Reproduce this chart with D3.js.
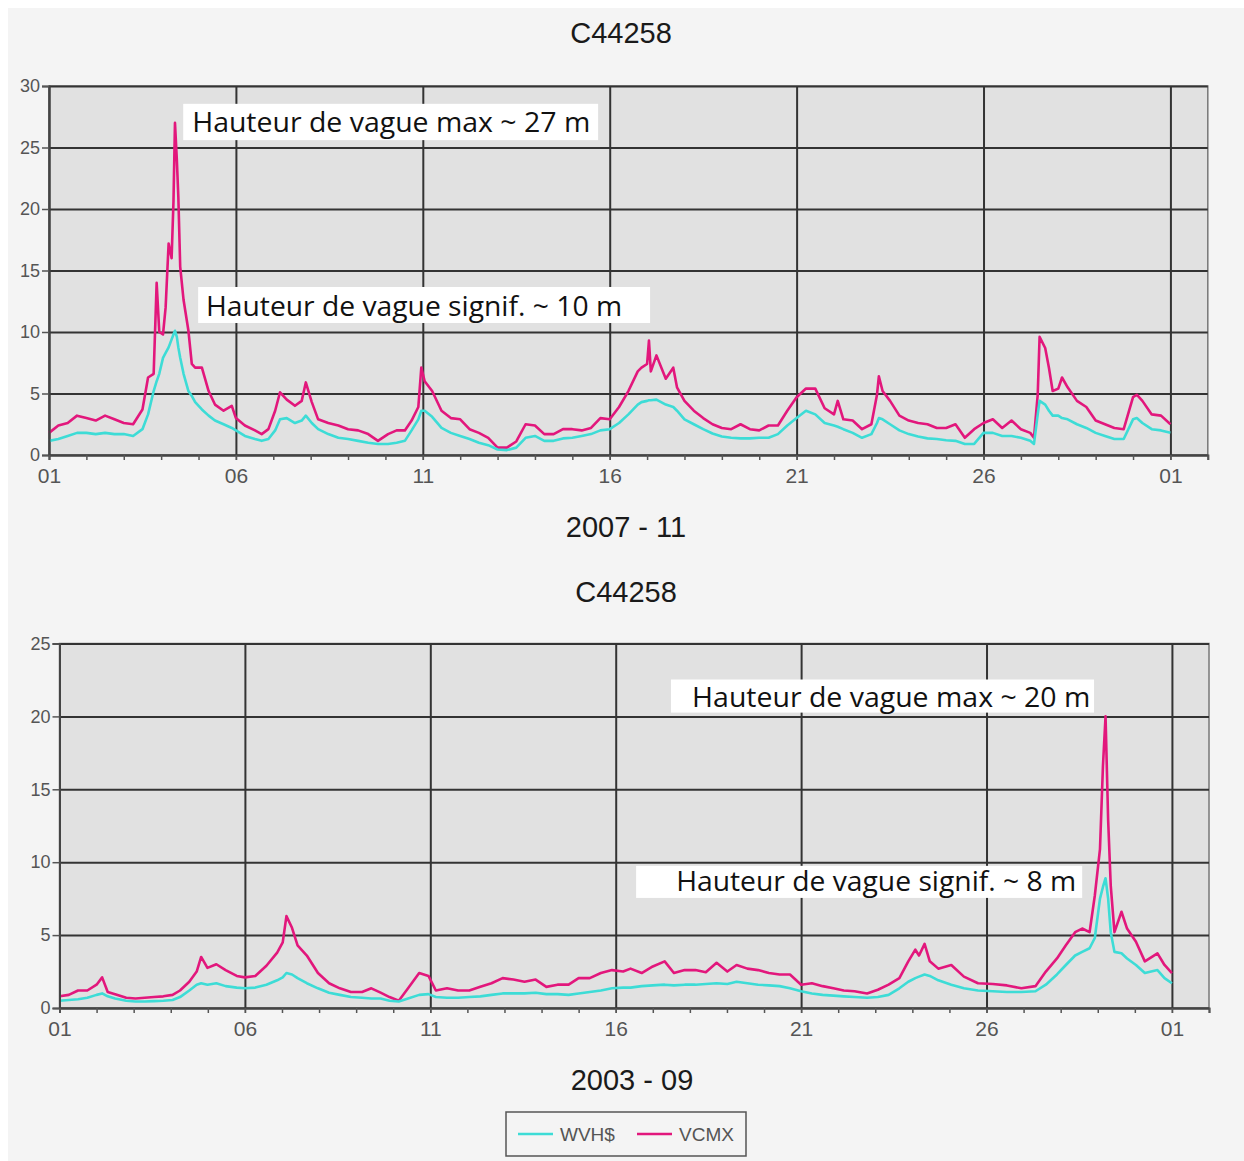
<!DOCTYPE html>
<html>
<head>
<meta charset="utf-8">
<script src="https://cdn.jsdelivr.net/npm/d3@7"></script>
<style>
  body { margin: 0; background: #ffffff; }
  .tick text { font-family: "Liberation Sans Narrow", "Liberation Sans", Arial, sans-serif; fill: #555; }
</style>
</head>
<body>
<div id="chart"></div>
<script>
// ---- data: C44258, 2007-11 (day of month, samples) ----
var novDays = [1, 1.25, 1.5, 1.75, 2, 2.25, 2.5, 2.75, 3, 3.25, 3.5, 3.65, 3.8, 3.88, 3.95, 4.05, 4.12, 4.2, 4.28, 4.33,
  4.37, 4.42, 4.46, 4.51, 4.6, 4.73, 4.82, 4.91, 5.09, 5.27, 5.44, 5.67, 5.89, 6, 6.24, 6.51, 6.69, 6.87, 7.05, 7.18,
  7.36, 7.58, 7.76, 7.87, 8.03, 8.2, 8.47, 8.74, 9, 9.27, 9.54, 9.8, 10.07, 10.3, 10.52, 10.7, 10.88, 10.96, 11.05, 11.25,
  11.5, 11.75, 12, 12.25, 12.5, 12.75, 13, 13.25, 13.5, 13.75, 14, 14.25, 14.5, 14.75, 15, 15.25, 15.5, 15.75, 16, 16.25,
  16.5, 16.75, 16.85, 17, 17.05, 17.1, 17.25, 17.5, 17.7, 17.8, 18, 18.25, 18.5, 18.75, 19, 19.25, 19.5, 19.75, 20, 20.25,
  20.5, 20.75, 21, 21.25, 21.5, 21.75, 22, 22.1, 22.25, 22.5, 22.75, 23, 23.15, 23.2, 23.3, 23.5, 23.75, 24, 24.25, 24.5,
  24.75, 25, 25.25, 25.5, 25.75, 26, 26.25, 26.5, 26.75, 27, 27.25, 27.35, 27.45, 27.5, 27.65, 27.75, 27.85, 28, 28.1, 28.25,
  28.5, 28.75, 29, 29.25, 29.5, 29.75, 30, 30.1, 30.25, 30.5, 30.75, 31];
var novWvhs = [1.15, 1.3, 1.55, 1.8, 1.8, 1.7, 1.8, 1.7, 1.7, 1.55, 2.1, 3.3, 5.2, 6.0, 6.6, 7.9, 8.3, 8.75, 9.4, 9.8,
  10.1, 9.6, 8.75, 7.9, 6.6, 5.2, 4.8, 4.3, 3.7, 3.2, 2.8, 2.5, 2.2, 2.0, 1.55, 1.3, 1.15, 1.3, 2.0, 2.9,
  3.0, 2.6, 2.8, 3.2, 2.6, 2.1, 1.7, 1.4, 1.3, 1.15, 1.0, 0.9, 0.9, 1.0, 1.15, 2.0, 2.9, 3.6, 3.6, 3.1,
  2.2, 1.8, 1.55, 1.3, 1.0, 0.8, 0.45, 0.4, 0.6, 1.4, 1.55, 1.15, 1.15, 1.35, 1.4, 1.55, 1.7, 2.0, 2.1, 2.6,
  3.3, 4.1, 4.3, 4.4, 4.45, 4.45, 4.5, 4.1, 3.9, 3.6, 2.9, 2.5, 2.1, 1.75, 1.5, 1.4, 1.35, 1.35, 1.4, 1.4,
  1.7, 2.4, 3.0, 3.6, 3.3, 2.6, 2.4, 2.3, 2.1, 1.8, 1.4, 1.7, 2.6, 3.0, 2.9, 2.5, 2.0, 1.7, 1.5, 1.35,
  1.3, 1.2, 1.15, 0.9, 0.9, 1.8, 1.8, 1.55, 1.55, 1.4, 1.15, 0.9, 3.3, 4.4, 4.1, 3.6, 3.2, 3.2, 3.0, 2.9,
  2.5, 2.2, 1.8, 1.55, 1.3, 1.3, 2.9, 3.0, 2.6, 2.1, 2.0, 1.8];
var novVcmx = [1.8, 2.4, 2.6, 3.2, 3.0, 2.8, 3.2, 2.9, 2.6, 2.5, 3.7, 6.3, 6.6, 14.0, 10.0, 9.8, 12.0, 17.2, 16.0, 20.6,
  27.0, 24.0, 21.0, 15.3, 12.6, 10.1, 7.4, 7.1, 7.1, 5.2, 4.1, 3.6, 4.0, 3.0, 2.4, 2.0, 1.7, 2.1, 3.6, 5.1,
  4.5, 4.0, 4.4, 5.9, 4.3, 2.9, 2.6, 2.4, 2.1, 2.0, 1.7, 1.15, 1.7, 2.0, 2.0, 2.8, 3.9, 7.1, 6.0, 5.2,
  3.6, 3.0, 2.9, 2.1, 1.8, 1.4, 0.6, 0.6, 1.1, 2.5, 2.4, 1.7, 1.7, 2.1, 2.1, 2.0, 2.2, 3.0, 2.9, 3.9,
  5.2, 6.8, 7.1, 7.4, 9.3, 6.8, 8.1, 6.2, 7.1, 5.5, 4.4, 3.6, 3.0, 2.5, 2.2, 2.1, 2.5, 2.1, 2.0, 2.4,
  2.4, 3.6, 4.7, 5.4, 5.4, 3.8, 3.3, 4.4, 2.9, 2.8, 2.1, 2.5, 4.9, 6.4, 5.2, 4.4, 3.2, 2.8, 2.6, 2.5,
  2.2, 2.2, 2.5, 1.4, 2.1, 2.6, 2.9, 2.2, 2.8, 2.1, 1.8, 1.4, 4.9, 9.6, 8.7, 7.1, 5.2, 5.4, 6.3, 5.5,
  4.4, 3.9, 2.8, 2.5, 2.2, 2.1, 4.7, 4.9, 4.4, 3.3, 3.2, 2.5];

// ---- data: C44258, 2003-09 ----
var sepDays = [1, 1.25, 1.5, 1.75, 2, 2.15, 2.3, 2.5, 2.8, 3.05, 3.3, 3.55, 3.8, 4.05, 4.25, 4.5, 4.7, 4.82, 4.99, 5.23,
  5.48, 5.78, 6, 6.28, 6.58, 6.87, 7.02, 7.12, 7.27, 7.42, 7.67, 7.97, 8.27, 8.56, 8.86, 9.16, 9.41, 9.66, 9.9, 10.15,
  10.4, 10.7, 10.95, 11.15, 11.45, 11.75, 12.05, 12.35, 12.65, 12.95, 13.24, 13.54, 13.84, 14.13, 14.43, 14.73, 15, 15.3, 15.6, 15.9,
  16.2, 16.4, 16.7, 17, 17.32, 17.57, 17.86, 18.15, 18.43, 18.72, 19.01, 19.26, 19.55, 19.84, 20.13, 20.42, 20.7, 21, 21.29, 21.58,
  21.87, 22.15, 22.44, 22.78, 23.07, 23.36, 23.65, 23.89, 24.08, 24.18, 24.33, 24.47, 24.7, 25.05, 25.39, 25.77, 26.17, 26.55, 26.94, 27.32,
  27.6, 27.9, 28.14, 28.39, 28.58, 28.78, 28.92, 29.06, 29.14, 29.21, 29.28, 29.35, 29.45, 29.64, 29.79, 30.03, 30.27, 30.61, 30.8, 31];
var sepWvhs = [0.5, 0.55, 0.6, 0.7, 0.9, 1.0, 0.8, 0.65, 0.5, 0.45, 0.45, 0.47, 0.5, 0.55, 0.75, 1.2, 1.6, 1.7, 1.6, 1.7,
  1.5, 1.4, 1.35, 1.4, 1.6, 1.9, 2.1, 2.4, 2.3, 2.05, 1.7, 1.35, 1.05, 0.9, 0.75, 0.7, 0.65, 0.65, 0.5, 0.45,
  0.65, 0.9, 0.95, 0.75, 0.7, 0.7, 0.75, 0.8, 0.9, 1.0, 1.0, 1.0, 1.05, 0.95, 0.95, 0.9, 1.0, 1.1, 1.2, 1.35,
  1.4, 1.4, 1.5, 1.55, 1.6, 1.55, 1.6, 1.6, 1.65, 1.7, 1.65, 1.8, 1.7, 1.6, 1.55, 1.5, 1.35, 1.15, 1.0, 0.9,
  0.85, 0.8, 0.75, 0.7, 0.75, 0.9, 1.35, 1.8, 2.05, 2.15, 2.3, 2.2, 1.9, 1.6, 1.35, 1.2, 1.15, 1.1, 1.1, 1.15,
  1.6, 2.3, 2.95, 3.6, 3.85, 4.1, 4.8, 7.5, 8.3, 8.9, 7.5, 5.2, 3.85, 3.75, 3.4, 2.95, 2.4, 2.6, 2.05, 1.7];
var sepVcmx = [0.8, 0.9, 1.2, 1.2, 1.6, 2.1, 1.1, 0.95, 0.7, 0.65, 0.7, 0.75, 0.8, 0.9, 1.2, 1.8, 2.5, 3.5, 2.75, 3.0,
  2.6, 2.2, 2.1, 2.2, 2.9, 3.8, 4.5, 6.3, 5.5, 4.3, 3.6, 2.4, 1.7, 1.35, 1.1, 1.1, 1.35, 1.05, 0.75, 0.5,
  1.35, 2.4, 2.2, 1.2, 1.35, 1.2, 1.2, 1.45, 1.7, 2.05, 1.95, 1.8, 1.95, 1.45, 1.6, 1.6, 2.05, 2.05, 2.4, 2.6,
  2.5, 2.7, 2.4, 2.85, 3.2, 2.4, 2.6, 2.6, 2.45, 3.1, 2.5, 2.95, 2.7, 2.6, 2.4, 2.3, 2.3, 1.6, 1.7, 1.5,
  1.35, 1.2, 1.15, 1.0, 1.25, 1.6, 2.05, 3.2, 4.0, 3.6, 4.4, 3.2, 2.7, 2.95, 2.15, 1.7, 1.65, 1.55, 1.35, 1.5,
  2.5, 3.4, 4.3, 5.2, 5.45, 5.2, 7.7, 10.9, 16.6, 20.0, 12.9, 8.4, 5.2, 6.6, 5.45, 4.55, 3.2, 3.75, 2.95, 2.4];

var dayTicks = [1, 6, 11, 16, 21, 26, 31];
var dayTickLabels = ["01", "06", "11", "16", "21", "26", "01"];
var minorDays = d3.range(1, 33);
var novValueTicks = [0, 5, 10, 15, 20, 25, 30];
var sepValueTicks = [0, 5, 10, 15, 20, 25];
var seriesNames = ["WVH$", "VCMX"];
var seriesColors = ["#3ddcd6", "#e2177c"];

var w = 1244, h = 1161;

var svg = d3.select("#chart").append("svg")
    .attr("width", w)
    .attr("height", h);

// light grey page
svg.append("rect")
    .attr("x", 8).attr("y", 8)
    .attr("width", w - 8).attr("height", h - 8)
    .attr("fill", "#f4f4f4");

function drawChart(opt) {
    var xScale = d3.scaleLinear().domain([1, 32]).range([opt.left, opt.right]);
    var yScale = d3.scaleLinear().domain([0, opt.yMax]).range([opt.bottom, opt.top]);

    var g = svg.append("g");

    // plot background
    g.append("rect")
        .attr("x", opt.left).attr("y", opt.top)
        .attr("width", opt.right - opt.left).attr("height", opt.bottom - opt.top)
        .attr("fill", "#e1e1e1")
        .attr("stroke", "#777")
        .attr("stroke-width", 1.5);

    // horizontal grid
    var hGrid = g.append("g")
        .attr("transform", "translate(" + opt.left + ",0)")
        .call(d3.axisLeft(yScale).tickValues(opt.yTicks).tickSize(-(opt.right - opt.left)).tickFormat(""));
    hGrid.select(".domain").remove();
    hGrid.selectAll("line").attr("stroke", "#333").attr("stroke-width", 2);

    // vertical grid
    var vGrid = g.append("g")
        .attr("transform", "translate(0," + opt.bottom + ")")
        .call(d3.axisBottom(xScale).tickValues(dayTicks).tickSize(-(opt.bottom - opt.top)).tickFormat(""));
    vGrid.select(".domain").remove();
    vGrid.selectAll("line").attr("stroke", "#333").attr("stroke-width", 2);

    // series
    var line = d3.line()
        .x(function(d) { return xScale(d[0]); })
        .y(function(d) { return yScale(d[1]); });

    var vcmx = opt.days.map(function(d, i) { return [d, opt.vcmx[i]]; });
    var wvhs = opt.days.map(function(d, i) { return [d, opt.wvhs[i]]; });

    g.append("path").datum(vcmx)
        .attr("d", line)
        .attr("fill", "none")
        .attr("stroke", seriesColors[1])
        .attr("stroke-width", 2.6)
        .attr("stroke-linejoin", "round");

    g.append("path").datum(wvhs)
        .attr("d", line)
        .attr("fill", "none")
        .attr("stroke", seriesColors[0])
        .attr("stroke-width", 2.6)
        .attr("stroke-linejoin", "round");

    // y axis
    var yAxis = g.append("g")
        .attr("transform", "translate(" + opt.left + ",0)")
        .call(d3.axisLeft(yScale).tickValues(opt.yTicks).tickSize(7).tickPadding(2));
    yAxis.select(".domain").attr("stroke", "#444").attr("stroke-width", 2);
    yAxis.selectAll("line").attr("stroke", "#555").attr("stroke-width", 1.5);
    yAxis.selectAll("text").style("font-size", "18px");

    // x axis: day minor ticks
    var xMinor = g.append("g")
        .attr("transform", "translate(0," + opt.bottom + ")")
        .call(d3.axisBottom(xScale).tickValues(minorDays).tickSize(5).tickFormat(""));
    xMinor.select(".domain").attr("stroke", "#444").attr("stroke-width", 2);
    xMinor.selectAll("line").attr("stroke", "#555").attr("stroke-width", 1.5);

    var xAxis = g.append("g")
        .attr("transform", "translate(0," + opt.bottom + ")")
        .call(d3.axisBottom(xScale).tickValues(dayTicks).tickSize(5).tickPadding(8)
            .tickFormat(function(d, i) { return dayTickLabels[i]; }));
    xAxis.select(".domain").remove();
    xAxis.selectAll("line").attr("stroke", "#555").attr("stroke-width", 1.5);
    xAxis.selectAll("text").style("font-size", "21px");

    // titles
    g.append("text")
        .attr("x", opt.titleX).attr("y", opt.titleY)
        .attr("text-anchor", "middle")
        .style("font-family", "Liberation Sans, Arial, sans-serif")
        .style("font-size", "29px")
        .attr("fill", "#1a1a1a")
        .text(opt.title);

    g.append("text")
        .attr("x", opt.subX).attr("y", opt.subY)
        .attr("text-anchor", "middle")
        .style("font-family", "Liberation Sans, Arial, sans-serif")
        .style("font-size", "29px")
        .attr("fill", "#1a1a1a")
        .text(opt.subtitle);

    // annotations (white label boxes placed in data space)
    opt.notes.forEach(function(n) {
        g.append("rect")
            .attr("x", xScale(n.box[0])).attr("y", yScale(n.box[2]))
            .attr("width", xScale(n.box[1]) - xScale(n.box[0]))
            .attr("height", yScale(n.box[3]) - yScale(n.box[2]))
            .attr("fill", "#ffffff");
        g.append("text")
            .attr("x", xScale(n.at[0])).attr("y", yScale(n.at[1]))
            .style("font-family", "Open Sans, Noto Sans, sans-serif")
            .style("font-size", "27px")
            .attr("fill", "#111")
            .attr("textLength", xScale(n.at[2]) - xScale(n.at[0]))
            .attr("lengthAdjust", "spacingAndGlyphs")
            .text(n.text);
    });
}

drawChart({
    left: 49, right: 1207.8, top: 86, bottom: 455, yMax: 30, yTicks: novValueTicks,
    days: novDays, wvhs: novWvhs, vcmx: novVcmx,
    title: "C44258", titleX: 621, titleY: 43,
    subtitle: "2007 - 11", subX: 626, subY: 537,
    notes: [
        { text: "Hauteur de vague max ~ 27 m", box: [4.59, 15.69, 28.55, 25.6], at: [4.83, 26.25, 15.48] },
        { text: "Hauteur de vague signif. ~ 10 m", box: [4.99, 17.08, 13.66, 10.73], at: [5.2, 11.3, 16.33] }
    ]
});

drawChart({
    left: 59.5, right: 1209, top: 643.5, bottom: 1008, yMax: 25, yTicks: sepValueTicks,
    days: sepDays, wvhs: sepWvhs, vcmx: sepVcmx,
    title: "C44258", titleX: 626, titleY: 602,
    subtitle: "2003 - 09", subX: 632, subY: 1090,
    notes: [
        { text: "Hauteur de vague max ~ 20 m", box: [17.49, 28.9, 22.53, 20.26], at: [18.06, 20.67, 28.8] },
        { text: "Hauteur de vague signif. ~ 8 m", box: [16.55, 28.58, 9.75, 7.55], at: [17.63, 8.0, 28.42] }
    ]
});

// legend
var legend = svg.append("g").attr("transform", "translate(506,1112)");
legend.append("rect")
    .attr("width", 240).attr("height", 44)
    .attr("fill", "none")
    .attr("stroke", "#555")
    .attr("stroke-width", 1.5);
seriesNames.forEach(function(name, i) {
    var item = legend.append("g").attr("transform", "translate(" + (12 + i * 119) + ",22)");
    item.append("line")
        .attr("x1", 0).attr("x2", 35)
        .attr("stroke", seriesColors[i])
        .attr("stroke-width", 2.5);
    item.append("text")
        .attr("x", 42).attr("y", 7)
        .style("font-family", "Liberation Sans Narrow, Liberation Sans, Arial, sans-serif")
        .style("font-size", "19px")
        .attr("fill", "#555")
        .text(name);
});
</script>
</body>
</html>
